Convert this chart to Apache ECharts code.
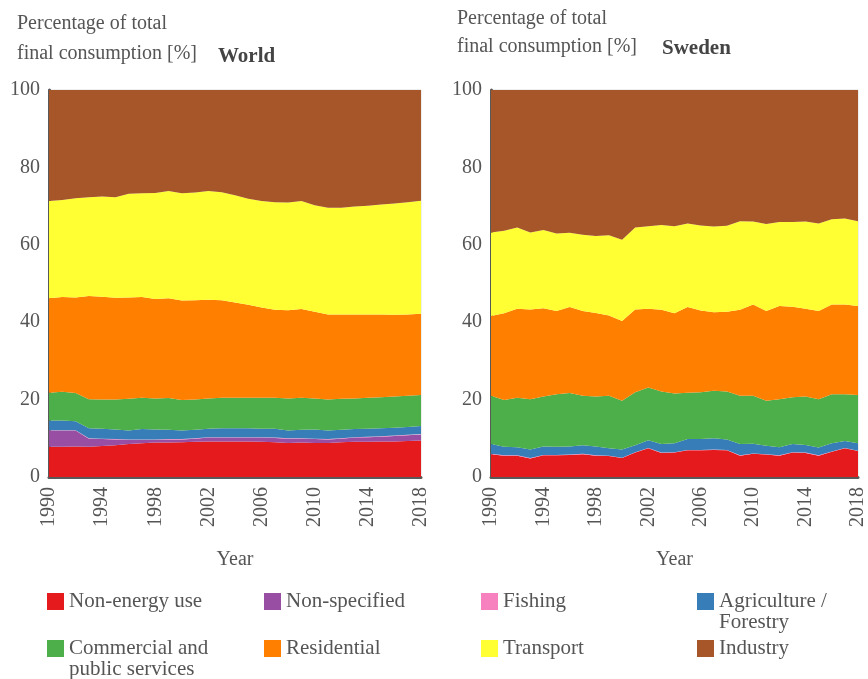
<!DOCTYPE html>
<html>
<head>
<meta charset="utf-8">
<script src="https://cdn.jsdelivr.net/npm/echarts@6/dist/echarts.min.js"></script>
<style>
  html, body { margin: 0; padding: 0; background: #fff; }
  #chart { width: 868px; height: 679px; }
</style>
</head>
<body>
<div id="chart"></div>
<script>
const years = []
for (let y = 1990; y <= 2018; y++) years.push(String(y))

const sectors = ['Non-energy use', 'Non-specified', 'Fishing', 'Agriculture / Forestry',
  'Commercial and public services', 'Residential', 'Transport', 'Industry']

// World, share of total final consumption [%]
const worldNonEnergy = [7.8, 7.8, 7.9, 7.8, 8.0, 8.2, 8.5, 8.7, 8.9, 8.9, 9.0, 9.1, 9.2, 9.2, 9.2, 9.2, 9.1, 9.0, 8.8, 8.9, 8.8, 8.8, 9.0, 9.1, 9.1, 9.2, 9.2, 9.3, 9.4]
const worldNonSpecified = [4.2, 4.2, 4.1, 2.1, 1.8, 1.5, 1.1, 0.9, 0.7, 0.8, 0.7, 0.8, 1.0, 1.0, 1.0, 1.0, 1.1, 1.1, 1.1, 1.0, 1.0, 0.9, 0.9, 1.1, 1.2, 1.2, 1.4, 1.5, 1.6]
const worldFishing = [0.1, 0.1, 0.1, 0.1, 0.1, 0.1, 0.1, 0.1, 0.1, 0.1, 0.1, 0.1, 0.1, 0.1, 0.1, 0.1, 0.1, 0.1, 0.1, 0.1, 0.1, 0.1, 0.1, 0.1, 0.1, 0.1, 0.1, 0.1, 0.1]
const worldAgriculture = [2.5, 2.5, 2.3, 2.6, 2.6, 2.5, 2.3, 2.7, 2.6, 2.4, 2.2, 2.2, 2.2, 2.3, 2.3, 2.3, 2.2, 2.3, 2.0, 2.2, 2.4, 2.2, 2.2, 2.1, 2.1, 2.1, 2.0, 2.0, 2.1]
const worldCommercial = [7.2, 7.4, 7.3, 7.5, 7.5, 7.7, 8.2, 8.1, 8.0, 8.2, 7.9, 7.8, 7.8, 7.9, 7.9, 7.9, 8.0, 8.0, 8.3, 8.3, 8.0, 8.0, 8.0, 7.9, 8.0, 8.0, 8.1, 8.1, 8.0]
const worldResidential = [24.4, 24.5, 24.7, 26.7, 26.6, 26.3, 26.2, 26.0, 25.7, 25.8, 25.7, 25.7, 25.5, 25.2, 24.6, 24.0, 23.3, 22.7, 22.8, 22.9, 22.4, 22.0, 21.8, 21.7, 21.5, 21.4, 21.1, 21.0, 21.0]
const worldTransport = [25.1, 25.1, 25.6, 25.5, 25.9, 26.0, 26.8, 26.8, 27.4, 27.7, 27.7, 27.8, 28.1, 27.9, 27.7, 27.4, 27.5, 27.8, 27.8, 27.9, 27.5, 27.6, 27.6, 27.9, 28.1, 28.4, 28.8, 29.0, 29.2]
const worldIndustry = [28.7, 28.4, 28.0, 27.7, 27.5, 27.7, 26.8, 26.7, 26.6, 26.1, 26.7, 26.5, 26.1, 26.4, 27.2, 28.1, 28.7, 29.0, 29.1, 28.7, 29.8, 30.4, 30.4, 30.1, 29.9, 29.6, 29.3, 29.0, 28.6]

// Sweden, share of total final consumption [%]
const swedenNonEnergy = [5.9, 5.5, 5.5, 4.8, 5.6, 5.6, 5.7, 5.9, 5.5, 5.4, 4.9, 6.3, 7.4, 6.2, 6.3, 6.9, 6.9, 7.0, 6.9, 5.5, 6.0, 5.8, 5.5, 6.3, 6.2, 5.5, 6.5, 7.4, 6.7]
const swedenNonSpecified = [0, 0, 0, 0, 0, 0, 0, 0, 0, 0, 0, 0, 0, 0, 0, 0, 0, 0, 0, 0, 0, 0, 0, 0, 0, 0, 0, 0, 0]
const swedenFishing = [0.1, 0.1, 0.1, 0.1, 0.1, 0.1, 0.1, 0.1, 0.1, 0.1, 0.1, 0.1, 0.1, 0.1, 0.1, 0.1, 0.1, 0.1, 0.1, 0.1, 0.1, 0.1, 0.1, 0.1, 0.1, 0.1, 0.1, 0.1, 0.1]
const swedenAgriculture = [2.5, 2.2, 2.1, 2.2, 2.2, 2.1, 2.1, 2.2, 2.3, 1.9, 2.1, 1.8, 2.0, 2.2, 2.3, 2.8, 2.8, 2.9, 2.7, 2.9, 2.5, 2.2, 2.1, 2.1, 2.0, 2.0, 2.1, 1.8, 1.9]
const swedenCommercial = [12.5, 12.1, 12.8, 13.0, 12.9, 13.6, 13.8, 12.8, 12.9, 13.6, 12.6, 13.7, 13.6, 13.6, 12.9, 12.0, 12.1, 12.3, 12.4, 12.5, 12.4, 11.6, 12.4, 12.1, 12.5, 12.5, 12.7, 12.1, 12.5]
const swedenResidential = [20.6, 22.4, 23.0, 23.2, 22.8, 21.5, 22.2, 21.9, 21.6, 20.7, 20.6, 21.4, 20.4, 21.1, 20.7, 22.1, 21.1, 20.3, 20.6, 22.2, 23.6, 23.2, 24.1, 23.4, 22.7, 22.8, 23.2, 23.2, 23.0]
const swedenTransport = [21.6, 21.3, 21.0, 19.9, 20.2, 20.0, 19.2, 19.7, 19.9, 20.8, 21.0, 21.2, 21.3, 21.9, 22.5, 21.6, 22.0, 22.1, 22.2, 22.9, 21.4, 22.5, 21.7, 21.9, 22.5, 22.6, 22.0, 22.2, 21.9]
const swedenIndustry = [36.8, 36.4, 35.5, 36.8, 36.2, 37.1, 36.9, 37.4, 37.7, 37.5, 38.7, 35.5, 35.2, 34.9, 35.2, 34.5, 35.0, 35.3, 35.1, 33.9, 34.0, 34.6, 34.1, 34.1, 34.0, 34.5, 33.4, 33.2, 33.9]

const yTicks = [0, 20, 40, 60, 80, 100]

const colors = ['#e41a1c', '#984ea3', '#f781bf', '#377eb8', '#4daf4a', '#ff7f00', '#ffff33', '#a65628']
const font = 'Liberation Serif'
const textColor = '#555'

const worldData = [worldNonEnergy, worldNonSpecified, worldFishing, worldAgriculture,
  worldCommercial, worldResidential, worldTransport, worldIndustry]
const swedenData = [swedenNonEnergy, swedenNonSpecified, swedenFishing, swedenAgriculture,
  swedenCommercial, swedenResidential, swedenTransport, swedenIndustry]

function makeSeries(data, idx, stack) {
  return data.map((values, i) => ({
    name: sectors[i],
    type: 'line',
    stack: stack,
    xAxisIndex: idx,
    yAxisIndex: idx,
    symbol: 'none',
    lineStyle: { width: 0 },
    areaStyle: { color: colors[i], opacity: 1 },
    itemStyle: { color: colors[i] },
    data: values
  }))
}

function xAxisFor(idx) {
  return {
    type: 'category',
    gridIndex: idx,
    boundaryGap: false,
    data: years,
    name: 'Year',
    nameLocation: 'middle',
    nameGap: 73,
    nameTextStyle: { fontFamily: font, fontSize: 20, color: textColor },
    axisLine: { lineStyle: { color: '#595959', width: 3 } },
    axisTick: { show: false },
    axisLabel: {
      interval: 3,
      rotate: 90,
      margin: 10,
      fontFamily: font,
      fontSize: 20,
      color: textColor
    },
    splitLine: { show: false }
  }
}

function yAxisFor(idx) {
  return {
    type: 'value',
    gridIndex: idx,
    min: yTicks[0],
    max: yTicks[yTicks.length - 1],
    interval: 20,
    axisLine: { show: true, lineStyle: { color: '#595959', width: 3 } },
    axisTick: { show: false },
    axisLabel: { margin: 9, fontFamily: font, fontSize: 20, color: textColor },
    splitLine: { show: false }
  }
}

// legend: 4 columns x 2 rows, long names wrap onto a second line
const legendCols = [47, 264, 481, 697]
const legendRows = [591, 638]
const firstLine = {
  'Agriculture / Forestry': 'Agriculture /',
  'Commercial and public services': 'Commercial and'
}
const secondLine = {
  'Agriculture / Forestry': 'Forestry',
  'Commercial and public services': 'public services'
}
const legends = sectors.map((name, i) => ({
  data: [name],
  left: legendCols[i % 4],
  top: legendRows[Math.floor(i / 4)],
  padding: 0,
  icon: 'rect',
  itemWidth: 17,
  itemHeight: 17,
  selectedMode: false,
  formatter: n => firstLine[n] || n,
  textStyle: { fontFamily: font, fontSize: 21, lineHeight: 21, color: textColor }
}))
const wrapped = sectors.map((name, i) => ({ name, i })).filter(d => secondLine[d.name]).map(d => ({
  type: 'text',
  left: legendCols[d.i % 4] + 22,
  top: legendRows[Math.floor(d.i / 4)] + 21,
  style: { text: secondLine[d.name], font: '21px "Liberation Serif"', fill: textColor }
}))

const chart = echarts.init(document.getElementById('chart'))
chart.setOption({
  backgroundColor: '#fff',
  animation: false,
  title: [
    {
      text: 'Percentage of total\nfinal consumption [%]',
      left: 12, top: 4,
      textStyle: { fontFamily: font, fontSize: 20, fontWeight: 'normal', color: textColor, lineHeight: 30 }
    },
    {
      text: 'World',
      left: 213, top: 41,
      textStyle: { fontFamily: font, fontSize: 21, fontWeight: 'bold', color: '#444' }
    },
    {
      text: 'Percentage of total\nfinal consumption [%]',
      left: 452, top: 0,
      textStyle: { fontFamily: font, fontSize: 20, fontWeight: 'normal', color: textColor, lineHeight: 28 }
    },
    {
      text: 'Sweden',
      left: 657, top: 33,
      textStyle: { fontFamily: font, fontSize: 21, fontWeight: 'bold', color: '#444' }
    }
  ],
  legend: legends,
  graphic: wrapped,
  grid: [
    { left: 49, top: 90, width: 372, height: 387, show: true, borderColor: '#ddd', borderWidth: 1 },
    { left: 491, top: 90, width: 372, height: 387, show: true, borderColor: '#ddd', borderWidth: 1 }
  ],
  xAxis: [xAxisFor(0), xAxisFor(1)],
  yAxis: [yAxisFor(0), yAxisFor(1)],
  series: makeSeries(worldData, 0, 'world').concat(makeSeries(swedenData, 1, 'sweden'))
})
</script>
</body>
</html>
